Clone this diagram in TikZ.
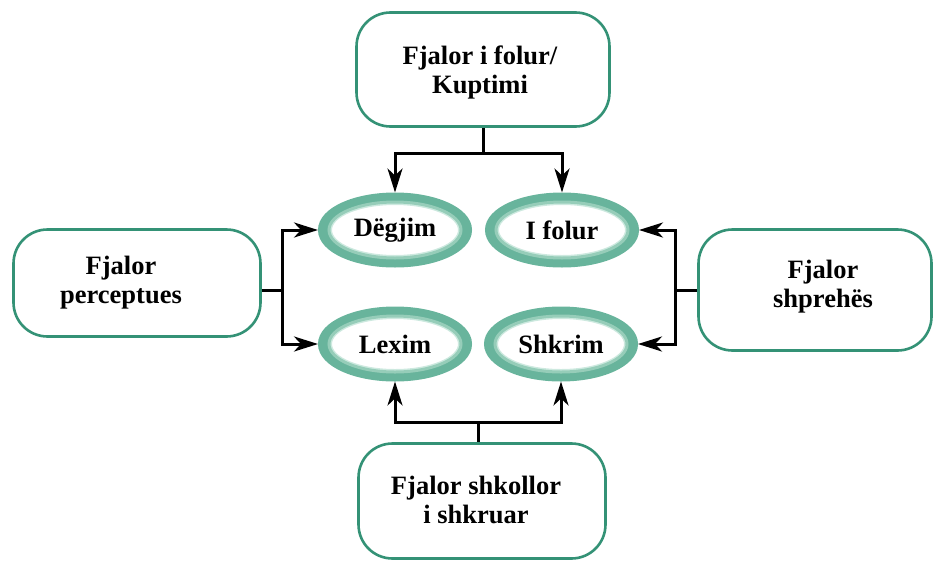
\documentclass[tikz,border=0pt]{standalone}
\usepackage{fontspec}
\setmainfont{Liberation Serif}
\usetikzlibrary{shapes.geometric,arrows.meta}
\definecolor{boxteal}{RGB}{52,146,118}
\definecolor{ringteal}{RGB}{104,180,156}
\definecolor{ringmid}{RGB}{150,205,185}
\definecolor{ringsoft}{RGB}{205,233,223}
\begin{document}
\begin{tikzpicture}[x=1pt,y=-1pt,
  lbl/.style={align=center,inner sep=0pt,font=\bfseries\fontsize{26.5}{29}\selectfont},
  box/.style={draw=boxteal,line width=2.6pt,rounded corners=34pt,fill=white},
  skill/.style={ellipse,draw=ringteal,line width=10pt,minimum width=144pt,
    minimum height=65pt,inner sep=0pt,outer sep=5pt,
    font=\bfseries\fontsize{26.5}{29}\selectfont},
  ringa/.style={draw=ringmid,line width=3pt},
  ringb/.style={draw=ringsoft,line width=3pt},
  connline/.style={draw=black,line width=3pt},
  connarrow/.style={draw=black,line width=3pt,
    arrows={-Stealth[length=24pt,width=15pt,inset=7pt]}}]
\useasboundingbox (0,0) rectangle (936,562);

% vocabulary boxes
\node[box,minimum width=253pt,minimum height=114pt] (top) at (483,69.5) {};
\node[lbl] (toptext) at (480,72) {Fjalor i folur/\\Kuptimi};

\node[box,minimum width=247pt,minimum height=107pt] (perc) at (137,283) {};
\node[lbl] (perctext) at (121,283) {Fjalor\\perceptues};

\node[box,minimum width=233pt,minimum height=121pt] (expr) at (815,290) {};
\node[lbl] (exprtext) at (823,287) {Fjalor\\shprehës};

\node[box,minimum width=247pt,minimum height=115pt] (school) at (482,501) {};
\node[lbl] (schooltext) at (476,500) {Fjalor shkollor\\i shkruar};

% the four language skills, each with a soft inner rim
\node[skill] (listen) at (395,230) {Dëgjim};
\node[skill] (speak)  at (562,230) {I folur};
\node[skill] (read)   at (395,344) {Lexim};
\node[skill] (write)  at (561,344) {Shkrim};
\foreach \e in {listen,speak,read,write}{
  \draw[ringb] (\e.center) ellipse (64.5pt and 26.5pt);
  \draw[ringa] (\e.center) ellipse (66pt and 28pt);
}

% junction points of the connectors
\coordinate (jt) at (483,153);
\coordinate (jl) at (282,290);
\coordinate (jr) at (675,290);
\coordinate (jb) at (478,422);

% spoken vocabulary -> listening, speaking
\draw[connline] (top.south) -- (jt);
\draw[connarrow] (jt) -| (listen.north);
\draw[connarrow] (jt) -| (speak.north);

% receptive vocabulary -> listening, reading
\draw[connline] (jl -| perc.east) -- (jl);
\draw[connarrow] (jl) |- (listen.west);
\draw[connarrow] (jl) |- (read.west);

% expressive vocabulary -> speaking, writing
\draw[connline] (expr.west) -- (jr);
\draw[connarrow] (jr) |- (speak.east);
\draw[connarrow] (jr) |- (write.east);

% written school vocabulary -> reading, writing
\draw[connline] (school.north -| jb) -- (jb);
\draw[connarrow] (jb) -| (read.south);
\draw[connarrow] (jb) -| (write.south);
\end{tikzpicture}
\end{document}
